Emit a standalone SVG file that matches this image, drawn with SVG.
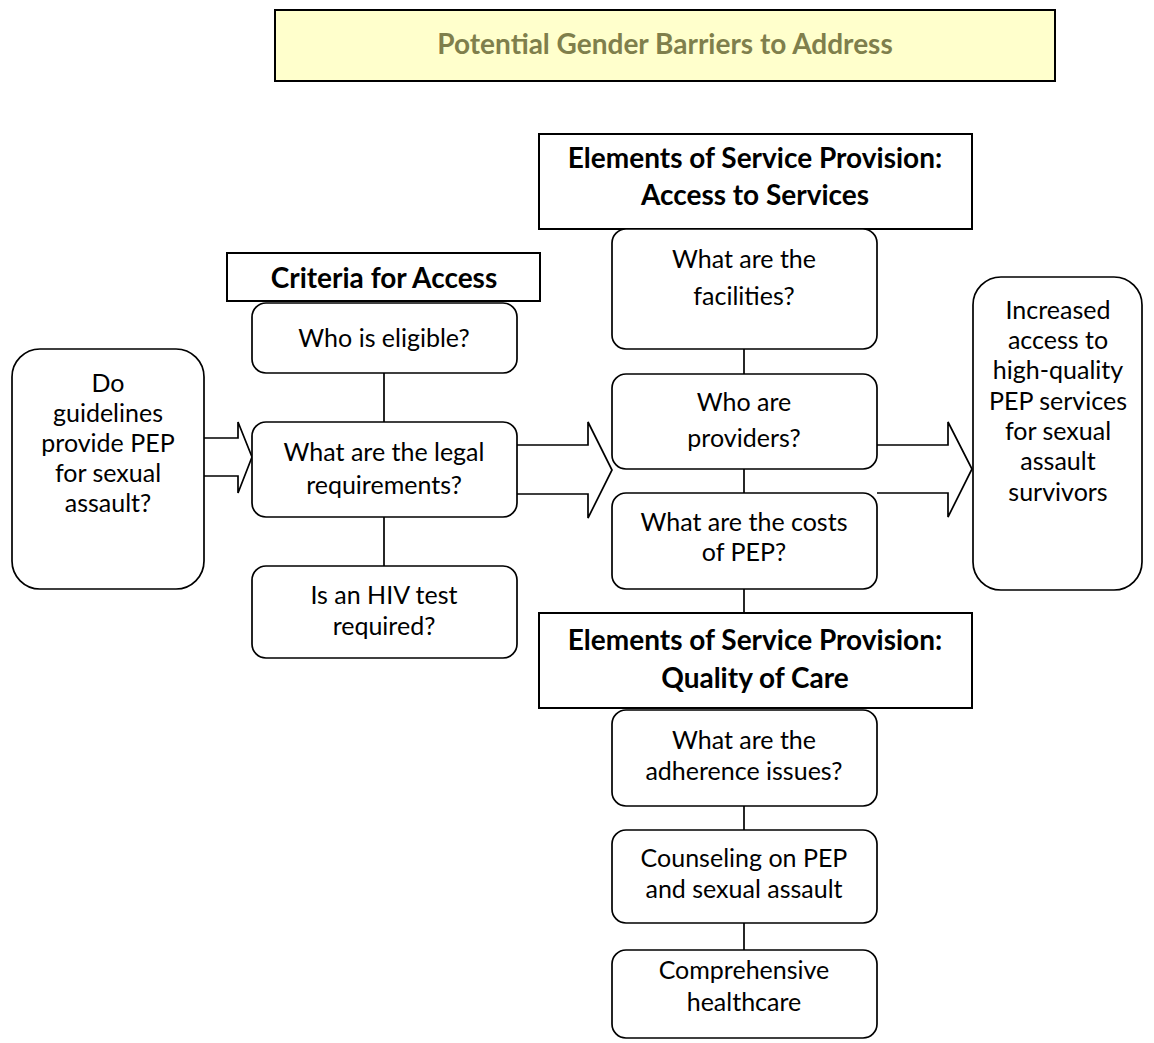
<svg xmlns="http://www.w3.org/2000/svg" width="1154" height="1043" viewBox="0 0 1154 1043">
<style>
.box{fill:#fff;stroke:#000;stroke-width:1.7}
.hdr{fill:#fff;stroke:#000;stroke-width:2}
.t{font-family:Lato,"Liberation Sans",sans-serif;font-size:25px;fill:#000;text-anchor:middle}
.h{font-family:Lato,"Liberation Sans",sans-serif;font-size:28px;font-weight:bold;fill:#000;text-anchor:middle}
.ttl{font-family:Lato,"Liberation Sans",sans-serif;font-size:28px;font-weight:bold;fill:#7f7f4c;text-anchor:middle}
.ln{stroke:#000;stroke-width:1.7;fill:none}
.ar{fill:#fff;stroke:#000;stroke-width:1.7;stroke-linejoin:miter}
</style>
<rect width="1154" height="1043" fill="#fff"/>
<g id="title">
<rect x="275" y="10" width="780" height="71" fill="#ffffcc" stroke="#000" stroke-width="2"/>
<text class="ttl" x="665" y="54">Potential Gender Barriers to Address</text>
</g>
<g id="connectors">
<path class="ar" d="M204,438 H238 V422 L252,457 L238,493 V476 H204"/>
<path class="ar" d="M516,445 H588 V422 L612,470 L588,518 V494 H516"/>
<path class="ar" d="M877,445 H948 V422 L972,469 L948,517 V493 H877"/>
<line class="ln" x1="384" y1="373" x2="384" y2="422"/>
<line class="ln" x1="384" y1="517" x2="384" y2="566"/>
<line class="ln" x1="744" y1="349" x2="744" y2="374"/>
<line class="ln" x1="744" y1="469" x2="744" y2="493"/>
<line class="ln" x1="744" y1="589" x2="744" y2="613"/>
<line class="ln" x1="744" y1="806" x2="744" y2="830"/>
<line class="ln" x1="744" y1="923" x2="744" y2="950"/>
</g>
<g id="guidelines">
<rect class="box" x="12" y="349" width="192" height="240" rx="28"/>
<text class="t" x="108" y="392">Do</text>
<text class="t" x="108" y="422">guidelines</text>
<text class="t" x="108" y="452">provide PEP</text>
<text class="t" x="108" y="482">for sexual</text>
<text class="t" x="108" y="512">assault?</text>
</g>
<g id="criteria">
<rect class="hdr" x="227" y="253" width="313" height="48"/>
<text class="h" x="384" y="288">Criteria for Access</text>
</g>
<g id="eligible">
<rect class="box" x="252" y="303" width="265" height="70" rx="14"/>
<text class="t" x="384" y="347">Who is eligible?</text>
</g>
<g id="legal">
<rect class="box" x="252" y="422" width="265" height="95" rx="14"/>
<text class="t" x="384" y="461">What are the legal</text>
<text class="t" x="384" y="494">requirements?</text>
</g>
<g id="hiv">
<rect class="box" x="252" y="566" width="265" height="92" rx="14"/>
<text class="t" x="384" y="604">Is an HIV test</text>
<text class="t" x="384" y="635">required?</text>
</g>
<g id="access-header">
<rect class="hdr" x="539" y="134" width="433" height="95"/>
<text class="h" x="755" y="168">Elements of Service Provision:</text>
<text class="h" x="755" y="205">Access to Services</text>
</g>
<g id="facilities">
<rect class="box" x="612" y="229" width="265" height="120" rx="14"/>
<text class="t" x="744" y="268">What are the</text>
<text class="t" x="744" y="305">facilities?</text>
</g>
<g id="providers">
<rect class="box" x="612" y="374" width="265" height="95" rx="14"/>
<text class="t" x="744" y="411">Who are</text>
<text class="t" x="744" y="447">providers?</text>
</g>
<g id="costs">
<rect class="box" x="612" y="493" width="265" height="96" rx="14"/>
<text class="t" x="744" y="531">What are the costs</text>
<text class="t" x="744" y="561">of PEP?</text>
</g>
<g id="quality-header">
<rect class="hdr" x="539" y="613" width="433" height="95"/>
<text class="h" x="755" y="650">Elements of Service Provision:</text>
<text class="h" x="755" y="688">Quality of Care</text>
</g>
<g id="adherence">
<rect class="box" x="612" y="710" width="265" height="96" rx="14"/>
<text class="t" x="744" y="749">What are the</text>
<text class="t" x="744" y="780">adherence issues?</text>
</g>
<g id="counseling">
<rect class="box" x="612" y="830" width="265" height="93" rx="14"/>
<text class="t" x="744" y="867">Counseling on PEP</text>
<text class="t" x="744" y="898">and sexual assault</text>
</g>
<g id="healthcare">
<rect class="box" x="612" y="950" width="265" height="88" rx="14"/>
<text class="t" x="744" y="979">Comprehensive</text>
<text class="t" x="744" y="1011">healthcare</text>
</g>
<g id="outcome">
<rect class="box" x="973" y="277" width="169" height="313" rx="28"/>
<text class="t" x="1058" y="319">Increased</text>
<text class="t" x="1058" y="349">access to</text>
<text class="t" x="1058" y="379">high-quality</text>
<text class="t" x="1058" y="410">PEP services</text>
<text class="t" x="1058" y="440">for sexual</text>
<text class="t" x="1058" y="470">assault</text>
<text class="t" x="1058" y="501">survivors</text>
</g>
</svg>
